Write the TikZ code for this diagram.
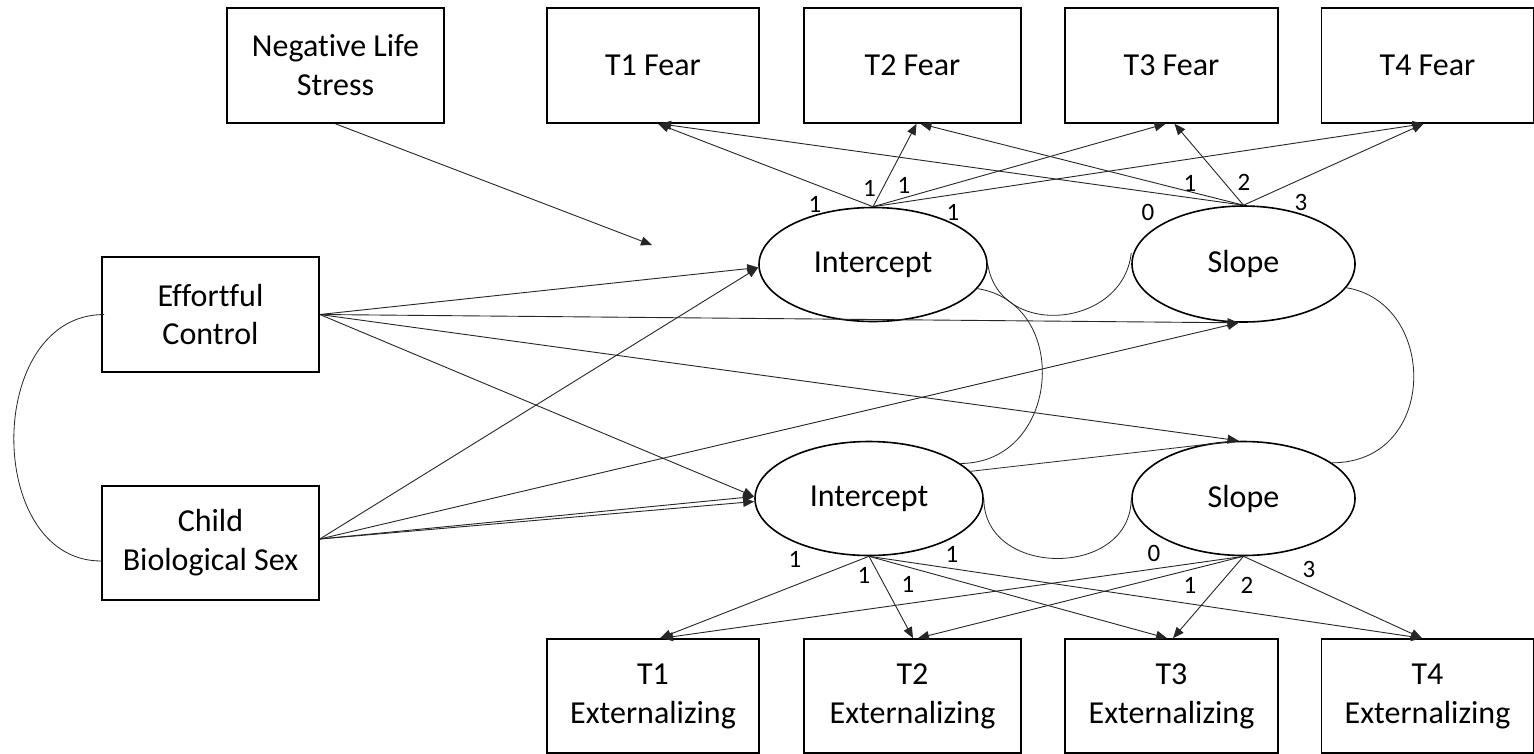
\documentclass[tikz,border=0pt]{standalone}
\usepackage{fontspec}
\setmainfont{Carlito}[Ligatures=NoCommon]
\usetikzlibrary{arrows.meta,shapes.geometric}
\begin{document}
\begin{tikzpicture}[x=1pt,y=-1pt,
  box/.style={draw=black, line width=1.6pt, rectangle, minimum width=214pt, minimum height=115pt, align=center, inner sep=0pt, font=\fontsize{32}{39}\selectfont},
  lat/.style={draw=black, line width=1.6pt, ellipse, minimum width=228pt, minimum height=114pt, inner sep=0pt, font=\fontsize{32}{39}\selectfont},
  conn/.style={draw=black!85, line width=0.9pt, -{Triangle[length=11pt,width=9pt]}},
  cov/.style={draw=black!85, line width=0.8pt},
  lbl/.style={font=\fontsize{25}{29}\selectfont, inner sep=0pt}
]
\useasboundingbox (0,0) rectangle (1534,753);
\fill[white] (0,0) rectangle (1534,753);

% observed boxes
\node[box, minimum width=217pt] (nls) at (335.5,65.5) {Negative Life\\Stress};
\node[box, minimum width=212pt] (f1) at (653,65.5) {T1 Fear};
\node[box, minimum width=217pt] (f2) at (912.5,65.5) {T2 Fear};
\node[box, minimum width=213pt] (f3) at (1171.5,65.5) {T3 Fear};
\node[box, minimum width=212pt] (f4) at (1427.5,65.5) {T4 Fear};
\node[box, minimum width=217pt] (ec) at (210.5,314.5) {Effortful\\Control};
\node[box, minimum width=217pt, minimum height=114pt] (cs) at (210.5,543) {Child\\Biological Sex};
\node[box, minimum width=212pt, minimum height=114pt] (e1) at (653,696) {T1\\Externalizing};
\node[box, minimum width=217pt, minimum height=114pt] (e2) at (912.5,696) {T2\\Externalizing};
\node[box, minimum width=213pt, minimum height=114pt] (e3) at (1171.5,696) {T3\\Externalizing};
\node[box, minimum width=212pt, minimum height=114pt] (e4) at (1427.5,696) {T4\\Externalizing};

% latent factors
\node[lat] (iF) at (873,264.5) {Intercept};
\node[lat, minimum width=223pt, minimum height=116pt] (sF) at (1243.5,264) {Slope};
\node[lat] (iE) at (869,498.5) {Intercept};
\node[lat, minimum width=223pt] (sE) at (1243.5,498.5) {Slope};

% free end of the moderator arrow and source points
\coordinate (nlsEnd) at (652,245);
\coordinate (csE) at ([yshift=4pt]cs.east);

% moderator
\draw[conn] (nls.south) -- (nlsEnd);

% predictors
\draw[conn] (ec.east) -- ([yshift=-3pt]iF.west);
\draw[conn] (ec.east) -- ([xshift=-5pt]sF.south);
\draw[conn] (ec.east) -- ([xshift=-5pt]sE.north);
\draw[conn] (ec.east) -- ([yshift=2pt]iE.west);
\draw[conn] (csE) -- ([yshift=-3pt]iF.west);
\draw[conn] (csE) -- ([xshift=-5pt]sF.south);
\draw[conn] (csE) -- ([yshift=2pt]iE.west);
\draw[conn] (csE) -- ([yshift=-3pt]iE.west);
\draw[cov] (iE.15) -- ([xshift=-5pt]sE.north);

% fear loadings
\draw[conn] (iF.north) -- ([xshift=5pt]f1.south);
\draw[conn] (iF.north) -- ([xshift=4pt]f2.south);
\draw[conn] (iF.north) -- ([xshift=-6pt]f3.south);
\draw[conn] (iF.north) -- ([xshift=-4pt]f4.south);
\draw[conn] (sF.north) -- ([xshift=7pt]f1.south);
\draw[conn] (sF.north) -- ([xshift=8pt]f2.south);
\draw[conn] (sF.north) -- ([xshift=3pt]f3.south);
\draw[conn] (sF.north) -- ([xshift=-4pt]f4.south);

% externalizing loadings
\draw[conn] (iE.south) -- ([xshift=7pt]e1.north);
\draw[conn] (iE.south) -- ([xshift=0.5pt]e2.north);
\draw[conn] (iE.south) -- ([xshift=-4.5pt]e3.north);
\draw[conn] (iE.south) -- ([xshift=-5.5pt]e4.north);
\draw[conn] (sE.south) -- ([xshift=9pt]e1.north);
\draw[conn] (sE.south) -- ([xshift=5.5pt]e2.north);
\draw[conn] (sE.south) -- ([xshift=1.5pt]e3.north);
\draw[conn] (sE.south) -- ([xshift=-5.5pt]e4.north);

% covariances
\draw[cov] ([xshift=3pt]ec.west) .. controls +(-120,0) and +(-117,0) .. ([yshift=-18pt]cs.west);
\draw[cov] (iF.east) .. controls +(12,75) and +(-8,75) .. ([yshift=11pt]sF.west);
\draw[cov] (iE.east) .. controls +(0,80) and +(0,80) .. (sE.west);
\draw[cov] (iF.-13) .. controls +(95,15) and +(100,0) .. (iE.21);
\draw[cov] (sF.-13) .. controls +(92,15) and +(107,0) .. (sE.22);

% loading labels (fear)
\node[lbl] (lf1) at (815,204) {1};
\node[lbl] (lf2) at (869.5,188) {1};
\node[lbl] (lf3) at (904,185) {1};
\node[lbl] (lf4) at (953,212) {1};
\node[lbl] (lf5) at (1148,212) {0};
\node[lbl] (lf6) at (1190,183) {1};
\node[lbl] (lf7) at (1244,182) {2};
\node[lbl] (lf8) at (1301,202) {3};
% loading labels (externalizing)
\node[lbl] (le1) at (795,559) {1};
\node[lbl] (le2) at (864,575) {1};
\node[lbl] (le3) at (908,584) {1};
\node[lbl] (le4) at (952,554) {1};
\node[lbl] (le5) at (1154,553) {0};
\node[lbl] (le6) at (1190,585) {1};
\node[lbl] (le7) at (1247,585) {2};
\node[lbl] (le8) at (1309,569) {3};
\end{tikzpicture}
\end{document}
